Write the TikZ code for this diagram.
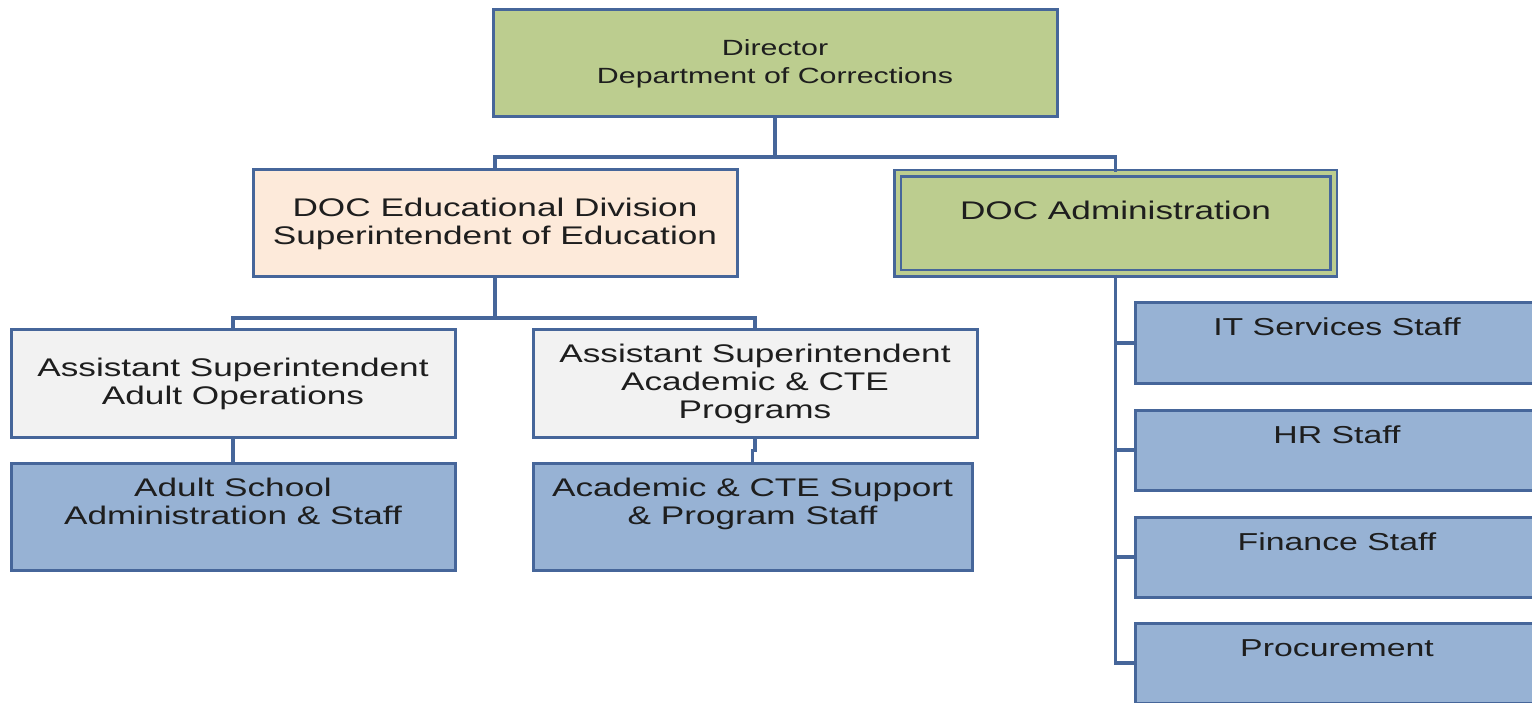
\documentclass[tikz,border=0pt]{standalone}
\usepackage{fontspec}
\setmainfont{Liberation Sans}[FakeStretch=1.38]
\definecolor{edge}{HTML}{46669A}
\definecolor{olive}{HTML}{BCCD8F}
\definecolor{peach}{HTML}{FDEADA}
\definecolor{paper}{HTML}{F2F2F2}
\definecolor{staff}{HTML}{97B2D4}
\definecolor{ink}{HTML}{1E1E1E}
\tikzset{
  orgbox/.style={draw=edge, line width=3pt, inner sep=0pt, align=center, text=ink,
    font=\fontsize{25.5}{28}\selectfont},
  greenbox/.style={orgbox, fill=olive},
  peachbox/.style={orgbox, fill=peach},
  greybox/.style={orgbox, fill=paper},
  staffbox/.style={orgbox, fill=staff},
  link/.style={draw=edge, line width=3.2pt}
}
\begin{document}
\begin{tikzpicture}[x=1pt, y=-1pt]
  \useasboundingbox (0,0) rectangle (1532,703);
  \clip (0,0) rectangle (1532,703);
  % top
  \node[greenbox, minimum width=564pt, minimum height=107pt, font=\fontsize{22}{28}\selectfont] (dir) at (775,63.5) {Director\\Department of Corrections};
  \node[peachbox, minimum width=484pt, minimum height=107pt] (edu) at (495,223.5) {DOC Educational Division\\Superintendent of Education};
  \node[greenbox, minimum width=436pt, text height=46pt, text depth=54pt, double=olive, double distance=4pt, line width=2.6pt] (adm) at (1115.5,223.5) {DOC Administration};
  % education side
  \node[greybox, minimum width=444pt, minimum height=107pt] (ops) at (233,383.5) {Assistant Superintendent\\Adult Operations};
  \node[greybox, minimum width=444pt, minimum height=107pt] (acad) at (755,383.5) {Assistant Superintendent\\Academic \& CTE\\Programs};
  \node[staffbox, minimum width=444pt, text height=61pt, text depth=46pt] (school) at (233,516.5) {Adult School\\Administration \& Staff};
  \node[staffbox, minimum width=439pt, text height=61pt, text depth=46pt] (support) at (752.5,516.5) {Academic \& CTE Support\\\& Program Staff};
  % administration side
  \node[staffbox, minimum width=404pt, text height=33pt, text depth=47pt, font=\fontsize{24.5}{28}\selectfont] (it) at (1337,343) {IT Services Staff};
  \node[staffbox, minimum width=404pt, text height=33pt, text depth=47pt, font=\fontsize{24.5}{28}\selectfont] (hr) at (1337,450) {HR Staff};
  \node[staffbox, minimum width=404pt, text height=33pt, text depth=47pt, font=\fontsize{24.5}{28}\selectfont] (fin) at (1337,557) {Finance Staff};
  \node[staffbox, minimum width=404pt, text height=33pt, text depth=47pt, font=\fontsize{24.5}{28}\selectfont] (proc) at (1337,663) {Procurement};
  % connectors
  \coordinate (top) at (775,157);
  \draw[link] (dir.south) -- (top) -| (edu.north);
  \draw[link] (top) -| (adm.north);
  \coordinate (mid) at (495,318);
  \draw[link] (edu.south) -- (mid) -| (ops.north);
  \draw[link] (mid) -| (acad.north);
  \draw[link] (ops.south) -- (school.north);
  \draw[link] (acad.south) -- ++(0,12) -| (support.north);
  \foreach \s in {it,hr,fin,proc}
    \draw[link] (adm.south) |- (\s.west);
\end{tikzpicture}
\end{document}
